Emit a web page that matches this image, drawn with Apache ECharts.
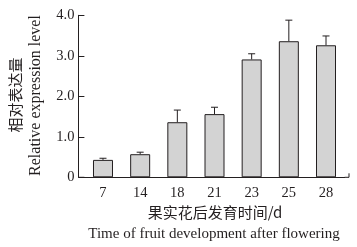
<!DOCTYPE html>
<html><head><meta charset="utf-8">
<script src="https://cdn.jsdelivr.net/npm/echarts@6/dist/echarts.min.js"></script>
<style>html,body{margin:0;padding:0;background:#fff}#c{width:357px;height:247px}</style>
</head><body><div id="c"></div>
<script>
const categories = ['7','14','18','21','23','25','28'];
const values = [0.43, 0.57, 1.36, 1.56, 2.91, 3.36, 3.26];
const errorTops = [0.47, 0.62, 1.66, 1.73, 3.05, 3.88, 3.49];
const yTicks = [0, 1, 2, 3, 4];

const serif = '"Liberation Serif","DejaVu Serif",serif';
const cjk = '"Noto Sans CJK SC",sans-serif';
const ink = '#231f20';
const chart = echarts.init(document.getElementById('c'), null, {renderer:'canvas'});
const gridL = 84.4, gridR = 12.4, gridT = 15.3, gridB = 69.7;
const axisY = 247 - gridB;
chart.setOption({
  animation:false,
  grid:{left:gridL, right:gridR, top:gridT, bottom:gridB, containLabel:false},
  xAxis:{type:'category', data:categories, boundaryGap:true,
    axisLine:{lineStyle:{color:ink,width:1}}, axisTick:{show:false},
    axisLabel:{color:ink, fontFamily:serif, fontSize:14.5, margin:8}},
  yAxis:{type:'value', min:yTicks[0], max:yTicks[yTicks.length-1], interval:1, offset:6,
    axisLine:{show:true, lineStyle:{color:ink,width:1}},
    axisTick:{show:true, inside:true, length:6, lineStyle:{color:ink}},
    splitLine:{show:false},
    axisLabel:{color:ink, fontFamily:serif, fontSize:14.5, margin:4,
      formatter:v => v===0 ? '0' : v.toFixed(1)}},
  graphic:[
    {type:'line', shape:{x1:78.4, y1:axisY, x2:gridL, y2:axisY}, style:{stroke:ink, lineWidth:1}},
    {type:'line', shape:{x1:357-gridR, y1:axisY, x2:349, y2:axisY}, style:{stroke:ink, lineWidth:1}},
    {type:'line', shape:{x1:349, y1:axisY, x2:349, y2:axisY-4}, style:{stroke:ink, lineWidth:1}},
    {type:'text', x:15, y:95, rotation:Math.PI/2, style:{text:'相对表达量', font:'15px '+cjk, fill:ink, textAlign:'center', textVerticalAlign:'middle'}},
    {type:'text', x:36, y:95.5, rotation:Math.PI/2, style:{text:'Relative expression level', font:'16px '+serif, fill:ink, textAlign:'center', textVerticalAlign:'middle'}},
    {type:'text', x:215, y:212, style:{text:'果实花后发育时间/d', font:'15px '+cjk, fill:ink, textAlign:'center', textVerticalAlign:'middle'}},
    {type:'text', x:214, y:234, style:{text:'Time of fruit development after flowering', font:'15px '+serif, fill:ink, textAlign:'center', textVerticalAlign:'middle'}}
  ],
  series:[
    {type:'bar', data:values, barWidth:20,
      itemStyle:{color:'#d3d3d3', borderColor:ink, borderWidth:1}},
    {type:'custom', data:values.map((v,i)=>[i, v, errorTops[i]]), z:3,
      renderItem:(params, api)=>{
        const b = api.coord([api.value(0), api.value(1)]);
        const t = api.coord([api.value(0), api.value(2)]);
        const hw = 3.5;
        return {type:'group', children:[
          {type:'line', shape:{x1:b[0], y1:b[1], x2:t[0], y2:t[1]}, style:{stroke:ink, lineWidth:1}},
          {type:'line', shape:{x1:t[0]-hw, y1:t[1], x2:t[0]+hw, y2:t[1]}, style:{stroke:ink, lineWidth:1}}
        ]};
      }}
  ]
});
</script></body></html>
